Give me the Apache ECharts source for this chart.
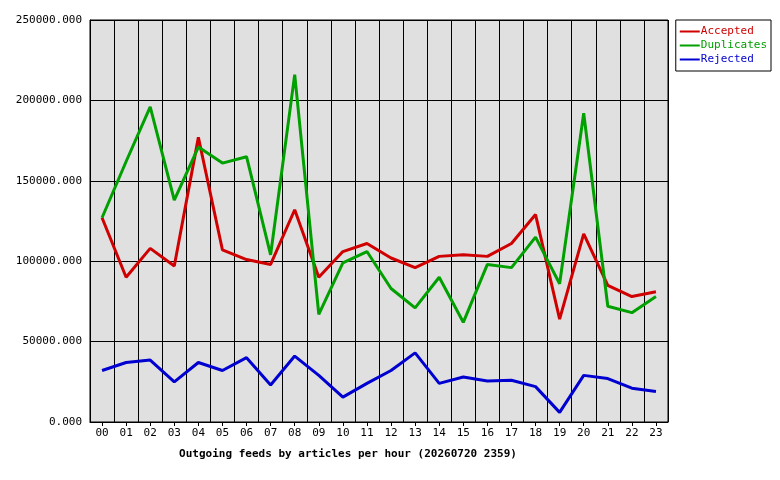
<!DOCTYPE html>
<html><head><meta charset="utf-8">
<script src="https://cdn.jsdelivr.net/npm/echarts@6/dist/echarts.min.js"></script>
<style>html,body{margin:0;background:#fff}#c{width:780px;height:480px}</style>
</head><body><div id="c"></div>
<script>
const hours = ['00','01','02','03','04','05','06','07','08','09','10','11','12','13','14','15','16','17','18','19','20','21','22','23'];
const accepted = [127000,90000,108000,97000,177000,107000,101000,98000,132000,90000,106000,111000,102000,96000,103000,104000,103000,111000,129000,64000,117000,85000,78000,81000];
const duplicates = [127000,162000,196000,138000,171000,161000,165000,104000,216000,67000,99000,106000,83000,71000,90000,62000,98000,96000,115000,86000,192000,72000,68000,78000];
const rejected = [32000,37000,38500,25000,37000,32000,40000,23000,41000,29000,15500,24000,32000,43000,24000,28000,25500,26000,22000,6000,29000,27000,21000,19000];
const font = 'DejaVu Sans Mono';
const chart = echarts.init(document.getElementById('c'));
const mk = (name, data, color) => ({name, type:'line', data, symbol:'none', lineStyle:{color, width:3}, itemStyle:{color}, z: name==='Rejected'?5:(name==='Accepted'?3:4)});
chart.setOption({
  animation:false,
  textStyle:{fontFamily:font},
  title:{text:'Outgoing feeds by articles per hour (20260720 2359)', left:343, textAlign:'center', top:444, textStyle:{fontFamily:font,fontSize:11,fontWeight:'bold',color:'#000'}},
  legend:{orient:'vertical', right:9, top:20, itemWidth:20, itemHeight:2, itemGap:3, padding:[6,4,6,4], borderColor:'#000', borderWidth:1, backgroundColor:'#fff',
    data:[{name:'Accepted',textStyle:{color:'#d00000'}},{name:'Duplicates',textStyle:{color:'#00a000'}},{name:'Rejected',textStyle:{color:'#0000d0'}}],
    textStyle:{fontFamily:font,fontSize:11,padding:[0,0,0,-4]}, icon:'rect'},
  grid:{left:90, right:112, top:20, bottom:58, show:true, backgroundColor:'#e0e0e0', borderColor:'#000', borderWidth:1},
  xAxis:{type:'category', data:hours, boundaryGap:true,
    axisLine:{lineStyle:{color:'#000'}}, axisTick:{show:true, alignWithLabel:true, length:4, lineStyle:{color:'#000'}},
    axisLabel:{color:'#000', fontFamily:font, fontSize:11, margin:6},
    splitLine:{show:true, lineStyle:{color:'#000', width:1}}},
  yAxis:{type:'value', min:0, max:250000, interval:50000,
    axisLine:{show:true,lineStyle:{color:'#000'}}, axisTick:{show:false},
    axisLabel:{color:'#000', fontFamily:font, fontSize:11, margin:8, formatter:v=>v.toFixed(3)},
    splitLine:{show:true, lineStyle:{color:'#000', width:1}}},
  series:[mk('Accepted',accepted,'#d00000'), mk('Duplicates',duplicates,'#00a000'), mk('Rejected',rejected,'#0000d0')]
});
</script></body></html>
